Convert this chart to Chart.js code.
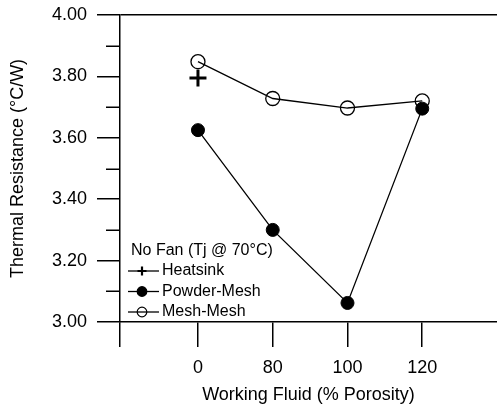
<!DOCTYPE html>
<html>
<head>
<meta charset="utf-8">
<script src="https://cdn.jsdelivr.net/npm/chart.js@4/dist/chart.umd.min.js"></script>
<style>
  html, body { margin: 0; padding: 0; background: #fff; }
  #wrap { width: 497px; height: 407px; position: relative; }
</style>
</head>
<body>
<div id="wrap"><canvas id="c" width="497" height="407"></canvas></div>
<script>
// ---- data ----
const categories = ['0', '80', '100', '120'];
const heatsink   = [3.795, null, null, null];
const powderMesh = [3.625, 3.30, 3.062, 3.695];
const meshMesh   = [3.848, 3.728, 3.697, 3.72];
const yTickValues = [3.0, 3.1, 3.2, 3.3, 3.4, 3.5, 3.6, 3.7, 3.8, 3.9, 4.0];
const yMajorTicks = [3.0, 3.2, 3.4, 3.6, 3.8, 4.0];
const legendTitle = 'No Fan (Tj @ 70°C)';
const xTitle = 'Working Fluid (% Porosity)';
const yTitle = 'Thermal Resistance (°C/W)';

const FONT = "'Liberation Sans', Arial, Helvetica, sans-serif";
const isMajor = v => yMajorTicks.some(m => Math.abs(m - v) < 1e-6);
const toPoints = arr => arr.map((v, i) => v === null ? null : ({ x: i, y: v })).filter(p => p);

const X_MIN = -1.043, X_MAX = 4.0;

function zeroPad(scale) {
  scale.paddingTop = 0; scale.paddingBottom = 0;
  scale.paddingLeft = 0; scale.paddingRight = 0;
}

const minorTicksPlugin = {
  id: 'minorTicks',
  afterDraw(chart) {
    const y = chart.scales.y;
    const ctx = chart.ctx;
    ctx.save();
    ctx.strokeStyle = '#000';
    ctx.lineWidth = 1.5;
    yTickValues.filter(v => !isMajor(v)).forEach(v => {
      const py = Math.round(y.getPixelForValue(v)) + 0.25;
      ctx.beginPath();
      ctx.moveTo(y.right - 14, py);
      ctx.lineTo(y.right, py);
      ctx.stroke();
    });
    ctx.restore();
  }
};

const legendPlugin = {
  id: 'customLegend',
  afterDraw(chart) {
    const ctx = chart.ctx;
    const x0 = 128, x1 = 159, xm = 142, xt = 162;
    const rows = [271, 291.5, 312];
    ctx.save();
    ctx.fillStyle = '#000';
    ctx.font = '16px ' + FONT;
    ctx.textBaseline = 'middle';
    ctx.textAlign = 'left';
    ctx.fillText(legendTitle, 131, 251);
    chart.data.datasets.forEach((ds, i) => {
      const y = rows[i];
      ctx.strokeStyle = '#000';
      ctx.lineWidth = 1.3;
      ctx.beginPath();
      ctx.moveTo(x0, y);
      ctx.lineTo(x1, y);
      ctx.stroke();
      if (ds.pointStyle === 'cross') {
        ctx.lineWidth = 2.2;
        ctx.beginPath();
        ctx.moveTo(xm - 4.5, y); ctx.lineTo(xm + 4.5, y);
        ctx.moveTo(xm, y - 4.5); ctx.lineTo(xm, y + 4.5);
        ctx.stroke();
      } else {
        ctx.beginPath();
        ctx.arc(xm, y, 4.8, 0, Math.PI * 2);
        if (ds.pointBackgroundColor !== 'transparent') {
          ctx.fillStyle = '#000';
          ctx.fill();
        }
        ctx.lineWidth = 1.2;
        ctx.stroke();
      }
      ctx.fillStyle = '#000';
      ctx.fillText(ds.label, xt, y);
    });
    ctx.restore();
  }
};

new Chart(document.getElementById('c'), {
  type: 'line',
  data: {
    datasets: [
      {
        label: 'Heatsink',
        data: toPoints(heatsink),
        showLine: false,
        pointStyle: 'cross',
        pointRadius: 8.5,
        pointBorderWidth: 3,
        pointBorderColor: '#000',
        pointBackgroundColor: '#000',
        borderColor: '#000'
      },
      {
        label: 'Powder-Mesh',
        data: toPoints(powderMesh),
        borderColor: '#000',
        borderWidth: 1.3,
        pointStyle: 'circle',
        pointRadius: 6.5,
        pointBorderWidth: 1,
        pointBorderColor: '#000',
        pointBackgroundColor: '#000',
        tension: 0
      },
      {
        label: 'Mesh-Mesh',
        data: toPoints(meshMesh),
        borderColor: '#000',
        borderWidth: 1.3,
        pointStyle: 'circle',
        pointRadius: 7,
        pointBorderWidth: 1.3,
        pointBorderColor: '#000',
        pointBackgroundColor: 'transparent',
        tension: 0
      }
    ]
  },
  options: {
    responsive: false,
    animation: false,
    layout: { autoPadding: false, padding: { top: 15, right: 0, bottom: 0, left: 0 } },
    plugins: { legend: { display: false }, tooltip: { enabled: false } },
    scales: {
      x: {
        type: 'linear',
        min: X_MIN,
        max: X_MAX,
        afterBuildTicks(scale) {
          scale.ticks = [{ value: X_MIN }].concat(categories.map((c, i) => ({ value: i })));
        },
        afterFit(scale) { scale.height = 85; zeroPad(scale); },
        ticks: {
          color: '#000',
          font: { family: FONT, size: 18 },
          padding: 10,
          maxRotation: 0,
          autoSkip: false,
          callback: (v) => {
            const i = Math.round(v);
            return (Math.abs(v - i) < 1e-6 && i >= 0 && i < categories.length) ? categories[i] : '';
          }
        },
        grid: {
          drawOnChartArea: false,
          tickLength: 25,
          color: '#000',
          lineWidth: 1.5
        },
        border: { display: true, color: '#000', width: 1.5 },
        title: {
          display: true,
          text: xTitle,
          color: '#000',
          font: { family: FONT, size: 18 },
          padding: { top: 0, bottom: 1 }
        }
      },
      y: {
        type: 'linear',
        min: 3.0,
        max: 4.0,
        afterBuildTicks(scale) {
          scale.ticks = yTickValues.map(v => ({ value: v }));
        },
        afterFit(scale) { scale.width = 120; zeroPad(scale); },
        ticks: {
          color: '#000',
          font: { family: FONT, size: 18 },
          padding: 10,
          autoSkip: false,
          callback: (v) => isMajor(v) ? v.toFixed(2) : ''
        },
        grid: {
          drawOnChartArea: true,
          tickLength: 23,
          lineWidth: 1.5,
          color: (ctx) => (ctx.tick && Math.abs(ctx.tick.value - 4.0) < 1e-6) ? '#000' : 'transparent',
          tickColor: (ctx) => (ctx.tick && isMajor(ctx.tick.value)) ? '#000' : 'transparent'
        },
        border: { display: true, color: '#000', width: 1.5 },
        title: {
          display: true,
          text: yTitle,
          color: '#000',
          font: { family: FONT, size: 18 },
          padding: { top: 7, bottom: 0 }
        }
      }
    }
  },
  plugins: [minorTicksPlugin, legendPlugin]
});
</script>
</body>
</html>
